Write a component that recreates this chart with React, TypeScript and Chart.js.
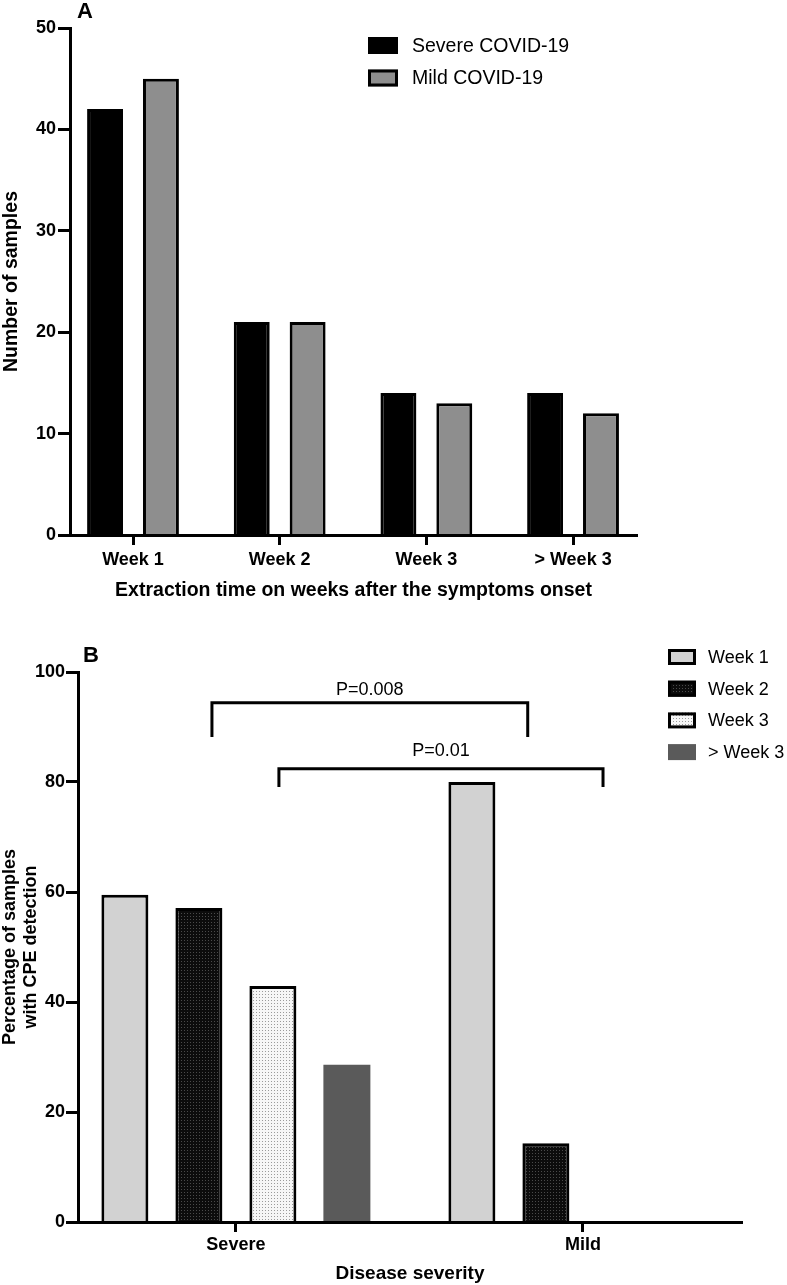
import React, { useEffect, useRef } from 'react';
import { Chart, registerables } from 'chart.js';

Chart.register(...registerables);

// ---------- Panel A data ----------
const weekCategoriesA = ['Week 1', 'Week 2', 'Week 3', '> Week 3'];
const severeCountsA = [42, 21, 14, 14];
const mildCountsA = [45, 21, 13, 12];
const seriesLabelsA = ['Severe COVID-19', 'Mild COVID-19'];
const yTicksA = [0, 10, 20, 30, 40, 50];

// ---------- Panel B data ----------
const severityCategoriesB = ['Severe', 'Mild'];
const seriesLabelsB = ['Week 1', 'Week 2', 'Week 3', '> Week 3'];
const week1PctB = [59.5, 80];
const week2PctB = [57.1, 14.3];
const week3PctB = [42.9, 0];
const beyondWeek3PctB = [28.6, 0];
const yTicksB = [0, 20, 40, 60, 80, 100];

// significance brackets (x in category-index units, y in percent)
const pValueLabels = ['P=0.008', 'P=0.01'];
const bracketFrom = [-0.069, 0.124];
const bracketTo = [0.841, 1.058];
const bracketTop = [94.4, 82.4];
const bracketLegEnd = [88.2, 79.1];
const pLabelLevel = [96.8, 85.6];

const FONT = "'Liberation Sans', Arial, Helvetica, sans-serif";

function makeDotPattern(bg: string, dot: string): CanvasPattern | string {
  const c = document.createElement('canvas');
  c.width = 3;
  c.height = 3;
  const g = c.getContext('2d');
  if (!g) return bg;
  g.fillStyle = bg;
  g.fillRect(0, 0, 3, 3);
  g.fillStyle = dot;
  g.fillRect(1, 1, 1, 1);
  const p = g.createPattern(c, 'repeat');
  return p || bg;
}

const decorPlugin = {
  id: 'decor',
  afterDraw(chart: any, _args: any, opts: any) {
    const ctx = chart.ctx as CanvasRenderingContext2D;
    ctx.save();
    // panel letter
    ctx.fillStyle = '#000';
    ctx.font = `bold 22px ${FONT}`;
    ctx.textAlign = 'center';
    ctx.textBaseline = 'middle';
    ctx.fillText(opts.letter, opts.letterX, opts.letterY);

    // legend
    const lg = opts.legend;
    chart.data.datasets.forEach((ds: any, i: number) => {
      const by = lg.boxY0 + i * lg.step;
      ctx.fillStyle = ds.backgroundColor;
      ctx.fillRect(lg.boxX, by, lg.boxW, lg.boxH);
      if (ds.borderWidth > 0) {
        ctx.lineWidth = 3;
        ctx.strokeStyle = ds.borderColor;
        ctx.strokeRect(lg.boxX + 1.5, by + 1.5, lg.boxW - 3, lg.boxH - 3);
      }
      ctx.fillStyle = '#000';
      ctx.font = `${lg.fontSize}px ${FONT}`;
      ctx.textAlign = 'left';
      ctx.textBaseline = 'middle';
      ctx.fillText(ds.label, lg.textX, by + lg.boxH / 2 + 1);
    });

    // brackets
    if (opts.brackets) {
      const xs = chart.scales.x;
      const ys = chart.scales.y;
      pValueLabels.forEach((lab, i) => {
        const x1 = xs.getPixelForValue(bracketFrom[i]);
        const x2 = xs.getPixelForValue(bracketTo[i]);
        const yt = ys.getPixelForValue(bracketTop[i]);
        const yl = ys.getPixelForValue(bracketLegEnd[i]);
        ctx.beginPath();
        ctx.lineWidth = 3;
        ctx.strokeStyle = '#000';
        ctx.lineJoin = 'miter';
        ctx.moveTo(x1, yl);
        ctx.lineTo(x1, yt);
        ctx.lineTo(x2, yt);
        ctx.lineTo(x2, yl);
        ctx.stroke();
        ctx.fillStyle = '#000';
        ctx.font = `18px ${FONT}`;
        ctx.textAlign = 'center';
        ctx.textBaseline = 'middle';
        ctx.fillText(lab, (x1 + x2) / 2, ys.getPixelForValue(pLabelLevel[i]));
      });
    }
    ctx.restore();
  },
};

function axisCommon(cats: string[]) {
  return {
    type: 'linear' as const,
    offset: false,
    afterBuildTicks: (s: any) => {
      s.ticks = cats.map((_, i) => ({ value: i }));
    },
    ticks: {
      callback: (v: any) => cats[v],
      color: '#000',
      font: { family: FONT, size: 18, weight: 'bold' as const },
    },
    grid: {
      offset: false,
      drawOnChartArea: false,
      drawTicks: true,
      tickLength: 10,
      tickWidth: 3,
      color: '#000',
      z: 1,
    },
    border: { display: true, width: 3, color: '#000', z: 1 },
  };
}

export default function App() {
  const refA = useRef<HTMLCanvasElement | null>(null);
  const refB = useRef<HTMLCanvasElement | null>(null);

  useEffect(() => {
    if (!refA.current || !refB.current) return;

    const xA: any = axisCommon(weekCategoriesA);
    xA.min = -0.4295;
    xA.max = 3.436;
    xA.ticks.padding = 4;
    xA.afterFit = (s: any) => {
      s.height = 80;
    };
    xA.title = {
      display: true,
      text: 'Extraction time on weeks after the symptoms onset',
      color: '#000',
      font: { family: FONT, size: 19.5, weight: 'bold' },
      padding: { top: 0, bottom: 13 },
    };

    const chartA = new Chart(refA.current, {
      type: 'bar',
      data: {
        datasets: [
          {
            label: seriesLabelsA[0],
            data: severeCountsA.map((v, i) => ({ x: i, y: v })),
            backgroundColor: '#000000',
            borderColor: '#000000',
            borderWidth: 3,
          },
          {
            label: seriesLabelsA[1],
            data: mildCountsA.map((v, i) => ({ x: i, y: v })),
            backgroundColor: '#8e8e8e',
            borderColor: '#000000',
            borderWidth: 3,
          },
        ],
      } as any,
      options: {
        responsive: false,
        animation: false,
        devicePixelRatio: 1,
        categoryPercentage: 0.762,
        barPercentage: 0.643,
        layout: { padding: { top: 28, right: 150, left: 0, bottom: 0 } },
        plugins: {
          legend: { display: false },
          tooltip: { enabled: false },
          decor: {
            letter: 'A',
            letterX: 85,
            letterY: 12,
            legend: { boxX: 368, boxY0: 37, step: 32.5, boxW: 30, boxH: 17, textX: 412, fontSize: 19.5 },
            brackets: false,
          },
        } as any,
        scales: {
          x: xA,
          y: {
            min: 0,
            max: 50,
            afterBuildTicks: (s: any) => {
              s.ticks = yTicksA.map((v) => ({ value: v }));
            },
            afterFit: (s: any) => {
              s.width = 70;
            },
            ticks: {
              color: '#000',
              padding: 2,
              font: { family: FONT, size: 18, weight: 'bold' },
            },
            grid: {
              drawOnChartArea: false,
              drawTicks: true,
              tickLength: 12,
              tickWidth: 3,
              color: '#000',
              z: 1,
            },
            border: { display: true, width: 3, color: '#000', z: 1 },
            title: {
              display: true,
              text: 'Number of samples',
              color: '#000',
              font: { family: FONT, size: 19.5, weight: 'bold' },
              padding: { top: 0, bottom: 0 },
            },
          },
        } as any,
      },
      plugins: [decorPlugin as any],
    });

    const week2Fill = makeDotPattern('#0c0c0c', '#4a4a4a');
    const week3Fill = makeDotPattern('#f6f6f6', '#9a9a9a');

    const xB: any = axisCommon(severityCategoriesB);
    xB.min = -0.455;
    xB.max = 1.4585;
    xB.ticks.padding = 2;
    xB.afterFit = (s: any) => {
      s.height = 63;
    };
    xB.title = {
      display: true,
      text: 'Disease severity',
      color: '#000',
      font: { family: FONT, size: 19, weight: 'bold' },
      padding: { top: 0, bottom: 0 },
    };

    const mk = (vals: number[]) => vals.map((v, i) => ({ x: i, y: v }));

    const chartB = new Chart(refB.current, {
      type: 'bar',
      data: {
        datasets: [
          {
            label: seriesLabelsB[0],
            data: mk(week1PctB),
            backgroundColor: '#d2d2d2',
            borderColor: '#000',
            borderWidth: 3,
          },
          {
            label: seriesLabelsB[1],
            data: mk(week2PctB),
            backgroundColor: week2Fill,
            borderColor: '#000',
            borderWidth: 3,
          },
          {
            label: seriesLabelsB[2],
            data: mk(week3PctB),
            backgroundColor: week3Fill,
            borderColor: '#000',
            borderWidth: 3,
          },
          {
            label: seriesLabelsB[3],
            data: mk(beyondWeek3PctB),
            backgroundColor: '#5a5a5a',
            borderColor: '#5a5a5a',
            borderWidth: 0,
          },
        ],
      } as any,
      options: {
        responsive: false,
        animation: false,
        devicePixelRatio: 1,
        categoryPercentage: 0.853,
        barPercentage: 0.635,
        layout: { padding: { top: 57, right: 45, left: 0, bottom: 0 } },
        plugins: {
          legend: { display: false },
          tooltip: { enabled: false },
          decor: {
            letter: 'B',
            letterX: 91,
            letterY: 41,
            legend: { boxX: 668, boxY0: 34, step: 31.7, boxW: 28, boxH: 16, textX: 708, fontSize: 18 },
            brackets: true,
          },
        } as any,
        scales: {
          x: xB,
          y: {
            min: 0,
            max: 100,
            afterBuildTicks: (s: any) => {
              s.ticks = yTicksB.map((v) => ({ value: v }));
            },
            afterFit: (s: any) => {
              s.width = 78;
            },
            ticks: {
              color: '#000',
              padding: 1,
              font: { family: FONT, size: 18, weight: 'bold' },
            },
            grid: {
              drawOnChartArea: false,
              drawTicks: true,
              tickLength: 12,
              tickWidth: 3,
              color: '#000',
              z: 1,
            },
            border: { display: true, width: 3, color: '#000', z: 1 },
            title: {
              display: true,
              text: ['Percentage of samples', 'with CPE detection'],
              color: '#000',
              font: { family: FONT, size: 18, weight: 'bold' },
              padding: { top: -1, bottom: 0 },
            },
          },
        } as any,
      },
      plugins: [decorPlugin as any],
    });

    return () => {
      chartA.destroy();
      chartB.destroy();
    };
  }, []);

  return (
    <div
      style={{
        position: 'absolute',
        left: 0,
        top: 0,
        width: 787,
        height: 1285,
        background: '#fff',
        overflow: 'hidden',
      }}
    >
      <canvas
        ref={refA}
        width={787}
        height={615}
        style={{ position: 'absolute', left: 0, top: 0, width: 787, height: 615 }}
      />
      <canvas
        ref={refB}
        width={787}
        height={670}
        style={{ position: 'absolute', left: 0, top: 615, width: 787, height: 670 }}
      />
    </div>
  );
}
